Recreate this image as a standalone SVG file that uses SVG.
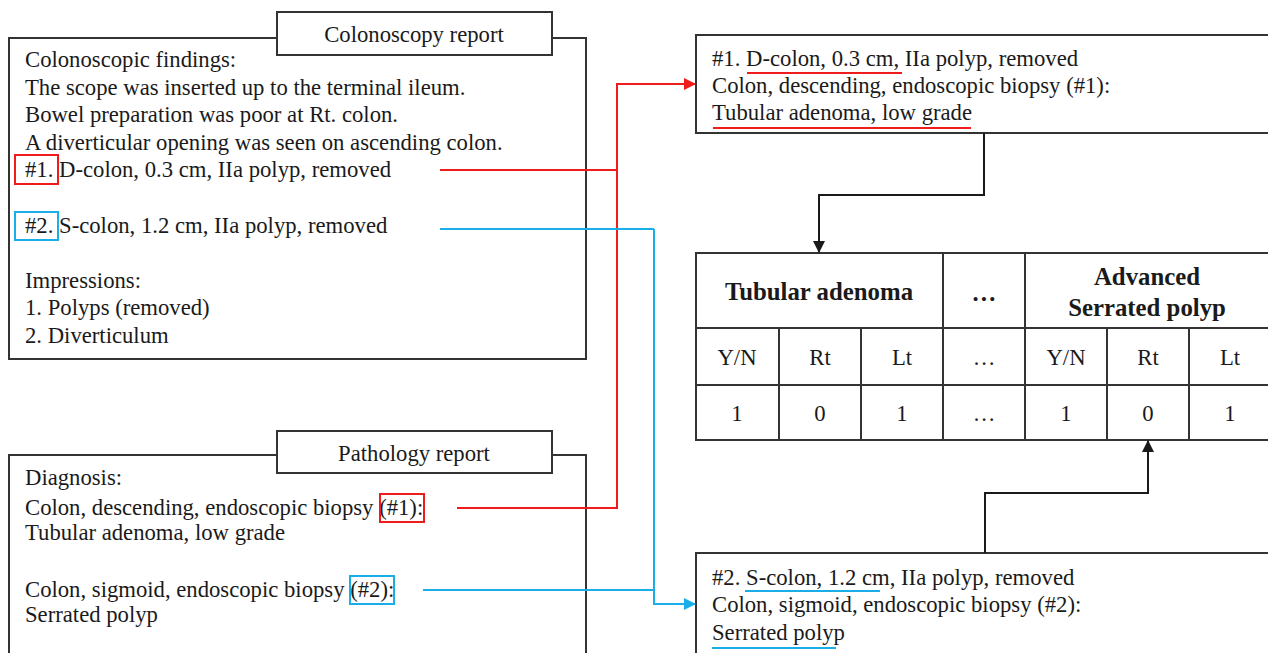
<svg xmlns="http://www.w3.org/2000/svg" width="1268" height="653" viewBox="0 0 1268 653">
<style>
text{font-family:"Liberation Serif","Times New Roman",serif;font-size:22.7px;fill:#1a1a1a}
.b{font-weight:bold;font-size:24.8px}
.m{text-anchor:middle}
.box{fill:#fff;stroke:#333;stroke-width:2}
.cell{fill:none;stroke:#333;stroke-width:2}
.red{fill:none;stroke:#f01c1c;stroke-width:2}
.blue{fill:none;stroke:#1aaee8;stroke-width:2}
.blk{fill:none;stroke:#1a1a1a;stroke-width:2}
</style>
<defs>
<marker id="ar" markerWidth="12" markerHeight="12" refX="11" refY="6" orient="auto" markerUnits="userSpaceOnUse"><path d="M0,0 L12,6 L0,12 Z" fill="#f01c1c"/></marker>
<marker id="ab" markerWidth="12" markerHeight="12" refX="11" refY="6" orient="auto" markerUnits="userSpaceOnUse"><path d="M0,0 L12,6 L0,12 Z" fill="#1aaee8"/></marker>
<marker id="ak" markerWidth="12" markerHeight="12" refX="11" refY="6" orient="auto" markerUnits="userSpaceOnUse"><path d="M0,0 L12,6 L0,12 Z" fill="#1a1a1a"/></marker>
</defs>

<g id="colonoscopy-report">
<rect class="box" x="9" y="38" width="577" height="321"/>
<rect class="box" x="277" y="12" width="275" height="43"/>
<text class="m" x="414" y="42">Colonoscopy report</text>
<text x="25" y="67">Colonoscopic findings:</text>
<text x="25" y="95">The scope was inserted up to the terminal ileum.</text>
<text x="25" y="122">Bowel preparation was poor at Rt. colon.</text>
<text x="25" y="150">A diverticular opening was seen on ascending colon.</text>
<text x="25" y="177">#1. D-colon, 0.3 cm, IIa polyp, removed</text>
<text x="25" y="233">#2. S-colon, 1.2 cm, IIa polyp, removed</text>
<text x="25" y="288">Impressions:</text>
<text x="25" y="315">1. Polyps (removed)</text>
<text x="25" y="343">2. Diverticulum</text>
<rect class="red" x="15" y="155" width="43" height="29"/>
<rect class="blue" x="15" y="212" width="43" height="28"/>
</g>

<g id="pathology-report">
<rect class="box" x="9" y="455" width="577" height="210"/>
<rect class="box" x="277" y="431" width="275" height="42"/>
<text class="m" x="414" y="461">Pathology report</text>
<text x="25" y="485">Diagnosis:</text>
<text x="25" y="515">Colon, descending, endoscopic biopsy (#1):</text>
<text x="25" y="540">Tubular adenoma, low grade</text>
<text x="25" y="597">Colon, sigmoid, endoscopic biopsy (#2):</text>
<text x="25" y="622">Serrated polyp</text>
<rect class="red" x="380" y="494" width="44" height="28"/>
<rect class="blue" x="350" y="576" width="44" height="28"/>
</g>

<g id="summary-1">
<rect class="box" x="696" y="35" width="580" height="98"/>
<text x="712" y="66">#1. D-colon, 0.3 cm, IIa polyp, removed</text>
<text x="712" y="93">Colon, descending, endoscopic biopsy (#1):</text>
<text x="712" y="120">Tubular adenoma, low grade</text>
<line class="red" x1="747" y1="73" x2="902" y2="73"/>
<line class="red" x1="713" y1="128" x2="971" y2="128"/>
</g>

<g id="summary-2">
<rect class="box" x="696" y="553" width="580" height="110"/>
<text x="712" y="585">#2. S-colon, 1.2 cm, IIa polyp, removed</text>
<text x="712" y="612">Colon, sigmoid, endoscopic biopsy (#2):</text>
<text x="712" y="640">Serrated polyp</text>
<line class="blue" x1="745" y1="591" x2="880" y2="591"/>
<line class="blue" x1="712" y1="648" x2="836" y2="648"/>
</g>

<g id="table">
<rect class="cell" x="696" y="253" width="580" height="187"/>
<line class="cell" x1="696" y1="328" x2="1276" y2="328"/>
<line class="cell" x1="696" y1="385" x2="1276" y2="385"/>
<line class="cell" x1="779" y1="328" x2="779" y2="440"/>
<line class="cell" x1="861" y1="328" x2="861" y2="440"/>
<line class="cell" x1="943" y1="253" x2="943" y2="440"/>
<line class="cell" x1="1025" y1="253" x2="1025" y2="440"/>
<line class="cell" x1="1107" y1="328" x2="1107" y2="440"/>
<line class="cell" x1="1189" y1="328" x2="1189" y2="440"/>
<text class="b m" x="819" y="300">Tubular adenoma</text>
<text class="b m" x="984" y="301">…</text>
<text class="b m" x="1147" y="285">Advanced</text>
<text class="b m" x="1147" y="316">Serrated polyp</text>
<text class="m" x="737" y="365">Y/N</text>
<text class="m" x="820" y="365">Rt</text>
<text class="m" x="902" y="365">Lt</text>
<text class="m" x="984" y="365">…</text>
<text class="m" x="1066" y="365">Y/N</text>
<text class="m" x="1148" y="365">Rt</text>
<text class="m" x="1230" y="365">Lt</text>
<text class="m" x="737" y="421">1</text>
<text class="m" x="820" y="421">0</text>
<text class="m" x="902" y="421">1</text>
<text class="m" x="984" y="421">…</text>
<text class="m" x="1066" y="421">1</text>
<text class="m" x="1148" y="421">0</text>
<text class="m" x="1230" y="421">1</text>
</g>

<g id="connectors">
<polyline class="red" points="440,170 617,170"/>
<polyline class="red" points="457,508 617,508 617,84 695,84" marker-end="url(#ar)"/>
<polyline class="blue" points="440,229 654,229"/>
<polyline class="blue" points="423,590 654,590"/>
<polyline class="blue" points="654,229 654,604 695,604" marker-end="url(#ab)"/>
<polyline class="blk" points="984,133 984,195 819,195 819,252" marker-end="url(#ak)"/>
<polyline class="blk" points="985,553 985,493 1148,493 1148,441" marker-end="url(#ak)"/>
</g>
</svg>
